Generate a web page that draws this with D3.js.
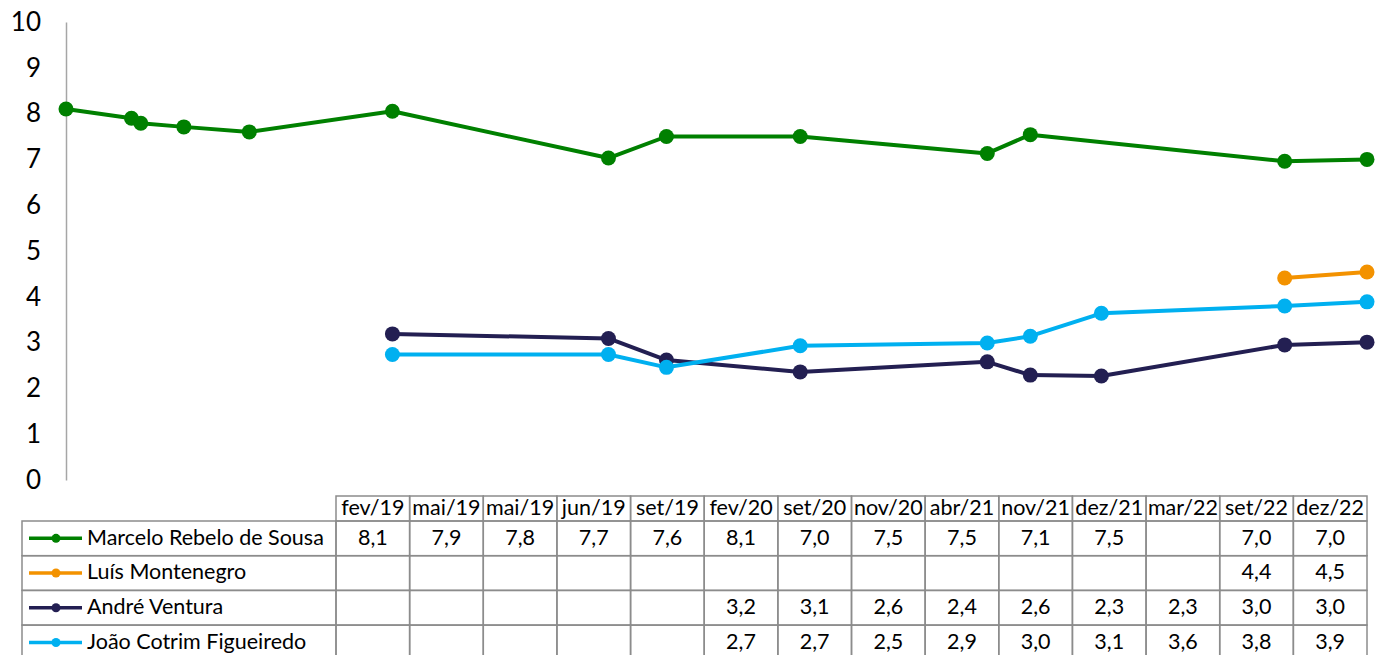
<!DOCTYPE html>
<html>
<head>
<meta charset="utf-8">
<script src="https://cdn.jsdelivr.net/npm/d3@7"></script>
<style>
  body { margin: 0; background: #fff; }
  svg text { font-family: Lato, "Open Sans", sans-serif; fill: #000; }
</style>
</head>
<body>
<div id="chart"></div>
<script>
// survey dates (approximate day within each month) and table headers
const dates = ["2019-02-20", "2019-05-01", "2019-05-11", "2019-06-26", "2019-09-04", "2020-02-04",
  "2020-09-22", "2020-11-23", "2021-04-15", "2021-11-01", "2021-12-17", "2022-03-03", "2022-09-15", "2022-12-12"];
const colLabels = ["fev/19", "mai/19", "mai/19", "jun/19", "set/19", "fev/20", "set/20",
  "nov/20", "abr/21", "nov/21", "dez/21", "mar/22", "set/22", "dez/22"];

const names = ["Marcelo Rebelo de Sousa", "Luís Montenegro", "André Ventura", "João Cotrim Figueiredo"];
const colors = ["#008000", "#F39200", "#231F52", "#00B0F0"];

const marcelo = [8.10, 7.90, 7.79, 7.71, 7.60, 8.05, 7.03, 7.50, 7.50, 7.13, 7.54, null, 6.96, 7.00];
const montenegro = [null, null, null, null, null, null, null, null, null, null, null, null, 4.41, 4.54];
const ventura = [null, null, null, null, null, 3.19, 3.09, 2.62, 2.36, 2.58, 2.29, 2.27, 2.95, 3.01];
const cotrim = [null, null, null, null, null, 2.74, 2.74, 2.46, 2.93, 2.99, 3.14, 3.64, 3.80, 3.89];

const yTicks = [0, 1, 2, 3, 4, 5, 6, 7, 8, 9, 10];

const seriesValues = [marcelo, montenegro, ventura, cotrim];
const parse = d3.timeParse("%Y-%m-%d");
const fmt = v => d3.format(".1f")(v).replace(".", ",");

const W = 1377, H = 655;
const plot = { left: 66, right: 1367, top: 22, bottom: 480 };

const svg = d3.select('#chart').append('svg')
  .attr('width', W)
  .attr('height', H);

const x = d3.scaleTime()
  .domain([parse(dates[0]), parse(dates[dates.length - 1])])
  .range([plot.left, plot.right]);

const y = d3.scaleLinear()
  .domain([0, 10])
  .range([plot.bottom, plot.top]);

// y axis: plain grey line, labels on the left, no ticks
const yAxis = svg.append('g')
  .attr('transform', `translate(${plot.left},0)`)
  .call(d3.axisLeft(y).tickValues(yTicks).tickSize(0).tickPadding(25).tickFormat(d3.format('d')));
yAxis.select('.domain').attr('stroke', '#a6a6a6').attr('stroke-width', 1.5);
yAxis.selectAll('text')
  .style('font-size', '26px')
  .style('font-family', 'Lato, sans-serif');

const line = d3.line()
  .x(d => x(d.date))
  .y(d => y(d.value));

seriesValues.forEach((vals, i) => {
  const pts = vals.map((v, j) => ({ date: parse(dates[j]), value: v }))
    .filter(d => d.value !== null);
  const g = svg.append('g');
  g.append('path')
    .datum(pts)
    .attr('fill', 'none')
    .attr('stroke', colors[i])
    .attr('stroke-width', 4)
    .attr('stroke-linejoin', 'round')
    .attr('d', line);
  g.selectAll('circle')
    .data(pts)
    .enter().append('circle')
    .attr('cx', d => x(d.date))
    .attr('cy', d => y(d.value))
    .attr('r', 7.5)
    .attr('fill', colors[i]);
});

// data table
const tbl = { left: 22, colStart: 336, right: 1367, headTop: 496, headBottom: 521, rowH: 34.7 };
const border = '#8c8c8c';

const col = d3.scaleBand()
  .domain(d3.range(colLabels.length))
  .range([tbl.colStart, tbl.right]);

const row = d3.scaleBand()
  .domain(d3.range(names.length))
  .range([tbl.headBottom, tbl.headBottom + tbl.rowH * names.length]);

const table = svg.append('g');

// header cells
table.selectAll('.head')
  .data(colLabels)
  .enter().append('rect')
  .attr('class', 'head')
  .attr('x', (d, i) => col(i))
  .attr('y', tbl.headTop)
  .attr('width', col.bandwidth())
  .attr('height', tbl.headBottom - tbl.headTop)
  .attr('fill', 'none')
  .attr('stroke', border)
  .attr('stroke-width', 1.5);

table.selectAll('.headText')
  .data(colLabels)
  .enter().append('text')
  .attr('x', (d, i) => col(i) + col.bandwidth() / 2)
  .attr('y', (tbl.headTop + tbl.headBottom) / 2 + 1)
  .attr('text-anchor', 'middle')
  .attr('dominant-baseline', 'middle')
  .style('font-size', '21.5px')
  .text(d => d);

// body rows
names.forEach((name, i) => {
  const top = row(i), h = row.bandwidth(), mid = top + h / 2;
  table.append('rect')
    .attr('x', tbl.left).attr('y', top)
    .attr('width', tbl.colStart - tbl.left).attr('height', h)
    .attr('fill', 'none').attr('stroke', border).attr('stroke-width', 1.5);

  table.append('line')
    .attr('x1', 29).attr('x2', 82).attr('y1', mid).attr('y2', mid)
    .attr('stroke', colors[i]).attr('stroke-width', 3.5);
  table.append('circle')
    .attr('cx', 56).attr('cy', mid).attr('r', 4.5)
    .attr('fill', colors[i]);
  table.append('text')
    .attr('x', 87).attr('y', mid + 1)
    .attr('dominant-baseline', 'middle')
    .style('font-size', '21.5px')
    .text(name);

  seriesValues[i].forEach((v, j) => {
    table.append('rect')
      .attr('x', col(j)).attr('y', top)
      .attr('width', col.bandwidth()).attr('height', h)
      .attr('fill', 'none').attr('stroke', border).attr('stroke-width', 1.5);
    if (v !== null) {
      table.append('text')
        .attr('x', col(j) + col.bandwidth() / 2)
        .attr('y', mid + 1)
        .attr('text-anchor', 'middle')
        .attr('dominant-baseline', 'middle')
        .style('font-size', '21.5px')
        .text(fmt(v));
    }
  });
});
</script>
</body>
</html>
